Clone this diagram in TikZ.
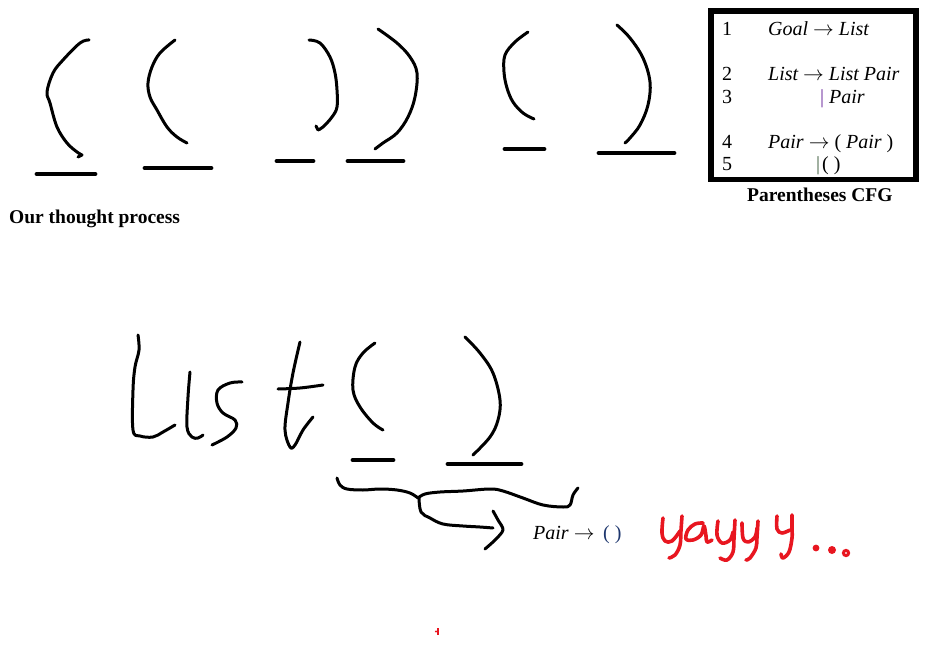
\documentclass[tikz,border=0pt]{standalone}
\usepackage{fontspec}
\setmainfont{Liberation Serif}
\definecolor{pred}{RGB}{232,22,32}
\definecolor{barpurple}{RGB}{112,48,160}
\definecolor{bargreen}{RGB}{70,100,70}
\definecolor{pblue}{RGB}{30,55,110}
\newcommand{\myarr}{\ $\rightarrow$\ }
\begin{document}
\begin{tikzpicture}[x=1pt,y=-1pt,
  hand/.style={line width=3pt,line cap=round,line join=round},
  redhand/.style={line width=3.6pt,line cap=round,line join=round,draw=pred},
  ubar/.style={line width=4.8pt,line cap=round},
  cfg/.style={anchor=base west,inner sep=0pt,font=\fontsize{20}{24}\selectfont},
  lbl/.style={anchor=base west,inner sep=0pt,font=\fontsize{19.5}{23}\selectfont\bfseries}]
\useasboundingbox (0,0) rectangle (932,661);
\fill[white] (0,0) rectangle (932,661);

% top sketches
\draw[hand] plot[smooth,tension=0.6] coordinates {(89,40) (80,43) (63,60) (53,73) (47,92) (50,103) (57,127) (67,143) (77,152) (82,155)} -- (78,157);
\draw[ubar] (37,174) -- (95,174);
\draw[hand] plot[smooth,tension=0.6] coordinates {(175,40) (160,53) (152,67) (148,83) (150,97) (157,110) (167,127) (177,137) (187,143)};
\draw[ubar] (145,168) -- (211,168);
\draw[hand] plot[smooth,tension=0.6] coordinates {(309,40) (320,43) (330,57) (335,73) (337,90) (337,107) (332,117) (323,127) (318,130)} -- (316,126);
\draw[ubar] (277,161) -- (313,161);
\draw[hand] plot[smooth,tension=0.6] coordinates {(378,29) (397,43) (410,57) (417,73) (415,97) (408,117) (397,133) (383,143) (375,149)};
\draw[ubar] (348,161) -- (403,161);
\draw[hand] plot[smooth,tension=0.6] coordinates {(528,32) (515,42) (505,55) (504,72) (507,88) (513,102) (523,113) (534,119)};
\draw[ubar] (505,149) -- (544,149);
\draw[hand] plot[smooth,tension=0.6] coordinates {(617,25) (630,38) (643,58) (650,82) (648,105) (640,125) (630,138) (625,143)};
\draw[ubar] (599,153) -- (674,153);

\node[lbl] (thought) at (9,223) {Our thought process};

% CFG box
\draw[line width=5.8pt,miter limit=10] (711.3,11.3) rectangle (916,179.5);
\node[cfg] (r1) at (722,36) {1};
\node[cfg] (g1) at (768,36) {\itshape Goal\myarr List};
\node[cfg] (r2) at (722,81) {2};
\node[cfg] (g2) at (768,81) {\itshape List\myarr List Pair};
\node[cfg] (r3) at (722,103) {3};
\node[cfg] (g3) at (820,103) {\textcolor{barpurple}{|} \itshape Pair};
\node[cfg] (r4) at (722,148) {4};
\node[cfg] (g4) at (768,148) {\itshape Pair\myarr\upshape{}( \itshape Pair\upshape{} )};
\node[cfg] (r5) at (722,170) {5};
\node[cfg] (g5) at (816,170) {\textcolor{bargreen}{|}\kern2pt( )};
\node[lbl] (cfgtitle) at (747,201) {Parentheses CFG};

% handwritten List ( )
\draw[hand] plot[smooth,tension=0.6] coordinates {(138,335) (139,350) (135,367) (133,390) (133,430) (140,436) (153,437) (163,432) (175,425)};
\draw[hand] plot[smooth,tension=0.6] coordinates {(190,372) (188,397) (187,427) (192,437) (198,438) (203,435)};
\draw[hand] plot[smooth,tension=0.6] coordinates {(242,382) (230,383) (218,390) (217,403) (223,413) (235,420) (236,428) (227,437) (212,445)};
\draw[hand] plot[smooth,tension=0.6] coordinates {(300,342) (293,373) (288,403) (285,430) (290,447) (295,445) (303,430) (313,417)};
\draw[hand] plot[smooth,tension=0.6] coordinates {(278,389) (300,388) (323,385)};
\draw[hand] plot[smooth,tension=0.6] coordinates {(375,343) (363,353) (355,367) (353,390) (360,407) (373,423) (383,430)};
\draw[ubar] (353,460) -- (393,460);
\draw[hand] plot[smooth,tension=0.6] coordinates {(465,337) (480,353) (493,373) (500,400) (498,420) (490,437) (473,455)};
\draw[ubar] (448,464) -- (521,464);

% brace and arrow
\draw[hand] plot[smooth,tension=0.6] coordinates {(337,478) (340,485) (347,489) (363,490) (380,489) (397,490) (410,493) (418,498)};
\draw[hand] plot[smooth,tension=0.6] coordinates {(418,498) (425,494) (440,492) (463,491) (490,489) (503,491) (523,498) (543,505) (563,507) (570,505) (573,495) (578,488)};
\draw[hand] plot[smooth,tension=0.6] coordinates {(419,498) (421,512) (430,518) (443,524) (463,526) (480,527) (493,528)};
\draw[hand] plot[smooth,tension=0.5] coordinates {(493,511) (498,520) (503,530) (495,540) (485,549)};

\node[cfg] (pairlbl) at (533,539) {\itshape Pair\myarr};
\node[cfg,text=pblue] (pairparen) at (603,539) {( )};

% yayyy...
\draw[redhand] plot[smooth,tension=0.6] coordinates {(663,518) (662,533) (665,541) (672,541) (680,531)};
\draw[redhand] plot[smooth,tension=0.6] coordinates {(682,516) (681,530) (680,545) (675,555) (669,558)};
\draw[redhand] plot[smooth,tension=0.6] coordinates {(703,523) (695,524) (688,530) (686,539) (693,540) (701,535) (704,526) (706,536) (707,542) (712,540)};
\draw[redhand] plot[smooth,tension=0.6] coordinates {(718,521) (717,535) (722,543) (730,540) (733,532)};
\draw[redhand] plot[smooth,tension=0.6] coordinates {(735,520) (734,538) (733,552) (727,560) (720,558)};
\draw[redhand] plot[smooth,tension=0.6] coordinates {(742,523) (743,538) (748,542) (755,537) (757,528)};
\draw[redhand] plot[smooth,tension=0.6] coordinates {(758,521) (757,537) (756,548) (750,558) (746,560)};
\draw[redhand] plot[smooth,tension=0.6] coordinates {(777,516) (777,529) (782,533) (790,530)};
\draw[redhand] plot[smooth,tension=0.6] coordinates {(792,515) (792,528) (792,538) (789,552) (783,558) (781,554)};
\fill[pred] (816,548) circle (3.4);
\fill[pred] (832,550) circle (4);
\draw[pred,line width=3pt] (846,553) circle (2.6);

% small red mark
\draw[pred,line width=2pt] (437.5,628) -- (437.5,635);
\fill[pred] (436,631.5) circle (1.2);
\end{tikzpicture}
\end{document}
